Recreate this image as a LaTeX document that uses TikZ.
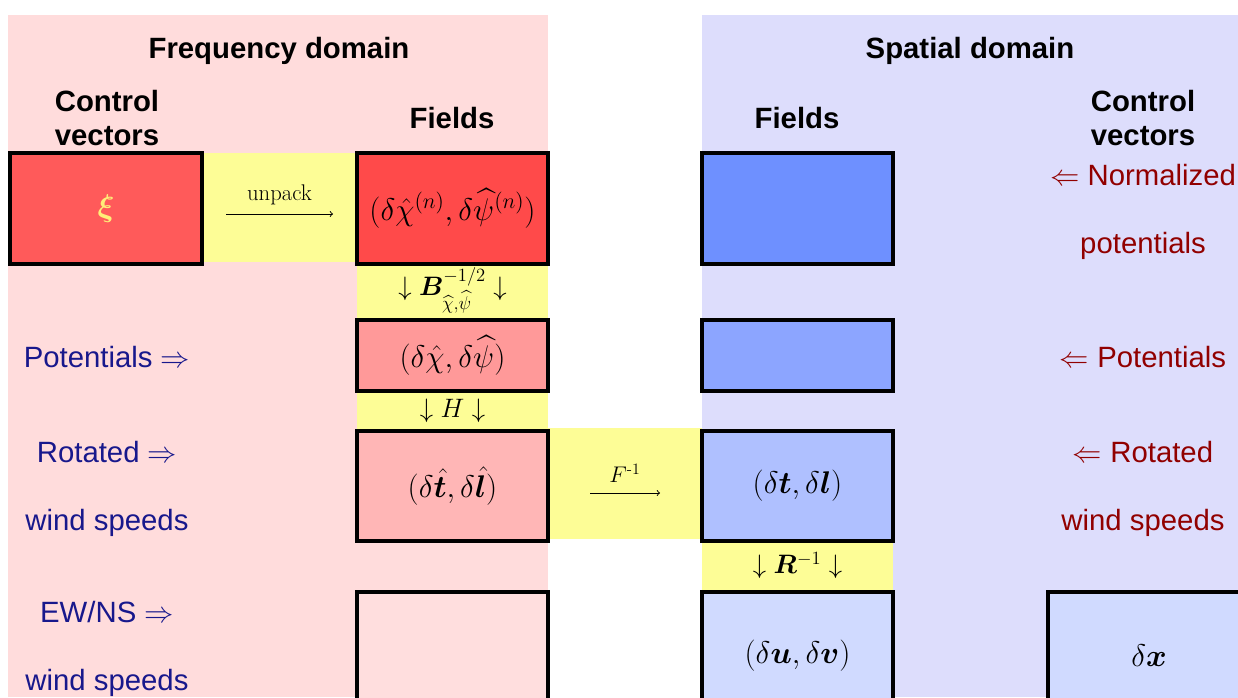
\RequirePackage{fix-cm}
\documentclass[tikz,border=0pt]{standalone}
\usepackage{amsmath,bm}
\usepackage[no-math]{fontspec}
\newfontfamily\arial{Liberation Sans}
\definecolor{pinkBG}{RGB}{255,220,220}
\definecolor{blueBG}{RGB}{221,221,252}
\definecolor{yellowS}{RGB}{253,253,150}
\definecolor{navyT}{RGB}{24,24,140}
\definecolor{redT}{RGB}{145,0,0}
\definecolor{xiY}{RGB}{255,238,120}
\definecolor{rA}{RGB}{255,90,90}
\definecolor{rB}{RGB}{255,74,74}
\definecolor{rC}{RGB}{255,153,153}
\definecolor{rD}{RGB}{255,182,182}
\definecolor{rE}{RGB}{255,222,222}
\definecolor{bA}{RGB}{110,144,255}
\definecolor{bB}{RGB}{140,165,255}
\definecolor{bC}{RGB}{175,192,255}
\definecolor{bD}{RGB}{208,218,255}
\newcommand{\mfont}{\fontsize{23.5}{28}\selectfont}
\newcommand{\sfontm}{\fontsize{20}{24}\selectfont}
\begin{document}
\begin{tikzpicture}[x=0.75pt,y=-0.75pt,
  sz/.style 2 args={minimum width=#1*0.75pt,minimum height=#2*0.75pt},
  box/.style={draw=black,line width=3.2pt,inner sep=0pt,outer sep=0pt,font=\mfont},
  strip/.style={fill=yellowS,inner sep=0pt,outer sep=0pt,font=\sfontm},
  head/.style={font=\arial\bfseries\fontsize{22}{25.5}\selectfont,align=center},
  llab/.style={font=\arial\fontsize{22}{26}\selectfont,text=navyT},
  rlab/.style={font=\arial\fontsize{22}{26}\selectfont,text=redT},
  arr/.style={->,line width=0.7pt},
  alab/.style={font=\fontsize{17}{20}\selectfont}
]
\useasboundingbox (0,0) rectangle (1238,697);
\clip (0,0) rectangle (1238,697);
\fill[white] (0,0) rectangle (1238,697);
% backgrounds
\fill[pinkBG] (8,15) rectangle (548,697);
\fill[blueBG] (702,15) rectangle (1238,697);
% headings
\node[head] (fd) at (279,51) {Frequency domain};
\node[head] (sd) at (970,51) {Spatial domain};
\node[head] (cvl) at (107,118) {Control\\vectors};
\node[head] (fl) at (452,118) {Fields};
\node[head] (fr) at (797,118) {Fields};
\node[head] (cvr) at (1143,118) {Control\\vectors};
% yellow strips
\node[strip,sz={153}{109}] (su) at (280.5,207.5) {};
\node[strip,sz={191}{56}] (sb) at (452.5,290) {$\downarrow\bm{B}^{-1/2}_{\widehat{\chi},\widehat{\psi}}\downarrow$};
\node[strip,sz={191}{40}] (sh) at (452.5,411) {$\downarrow H\downarrow$};
\node[strip,sz={154}{111}] (sf) at (625,483.5) {};
\node[strip,sz={191}{49}] (sr) at (797.5,565.5) {$\downarrow\bm{R}^{-1}\downarrow$};
% frequency-domain boxes
\node[box,fill=rA,sz={192}{111}] (xi) at (106,208.5) {\textcolor{xiY}{$\bm{\xi}$}};
\node[box,fill=rB,sz={191}{111}] (chin) at (452.5,208.5) {$(\delta\hat{\chi}^{(n)},\delta\widehat{\psi}^{(n)})$};
\node[box,fill=rC,sz={191}{71}] (chi) at (452.5,355.5) {$(\delta\hat{\chi},\delta\widehat{\psi})$};
\node[box,fill=rD,sz={191}{110}] (tl) at (452.5,486) {$(\delta\hat{\bm{t}},\delta\hat{\bm{l}})$};
\node[box,fill=rE,sz={191}{128}] (ew) at (452.5,656) {};
% spatial-domain boxes
\node[box,fill=bA,sz={191}{111}] (b1) at (797.5,208.5) {};
\node[box,fill=bB,sz={191}{71}] (b2) at (797.5,355.5) {};
\node[box,fill=bC,sz={191}{110}] (b3) at (797.5,486) {$(\delta\bm{t},\delta\bm{l})$};
\node[box,fill=bD,sz={191}{128}] (uv) at (797.5,656) {$(\delta\bm{u},\delta\bm{v})$};
\node[box,fill=bD,sz={202}{128}] (dx) at (1149,656) {$\delta\bm{x}$};
% operator arrows
\coordinate (ua) at (226,214);
\coordinate (ub) at (333,214);
\draw[arr] (ua) -- node[above=3pt,alab] {unpack} (ub);
\coordinate (fa) at (590,493);
\coordinate (fb) at (660,493);
\draw[arr] (fa) -- node[above=4pt,alab] {$F^{\text{-1}}$} (fb);
% left labels
\node[llab] (lp) at (107,357) {Potentials $\Rightarrow$};
\node[llab] (lr) at (107,452) {Rotated $\Rightarrow$};
\node[llab] (lw) at (107,523) {wind speeds};
\node[llab] (le) at (107,612) {EW/NS $\Rightarrow$};
\node[llab] (lw2) at (107,683) {wind speeds};
% right labels
\node[rlab] (rn) at (1143,175) {$\Leftarrow$ Normalized};
\node[rlab] (rp) at (1143,246) {potentials};
\node[rlab] (rp2) at (1143,357) {$\Leftarrow$ Potentials};
\node[rlab] (rr) at (1143,452) {$\Leftarrow$ Rotated};
\node[rlab] (rw) at (1143,523) {wind speeds};
\end{tikzpicture}
\end{document}
